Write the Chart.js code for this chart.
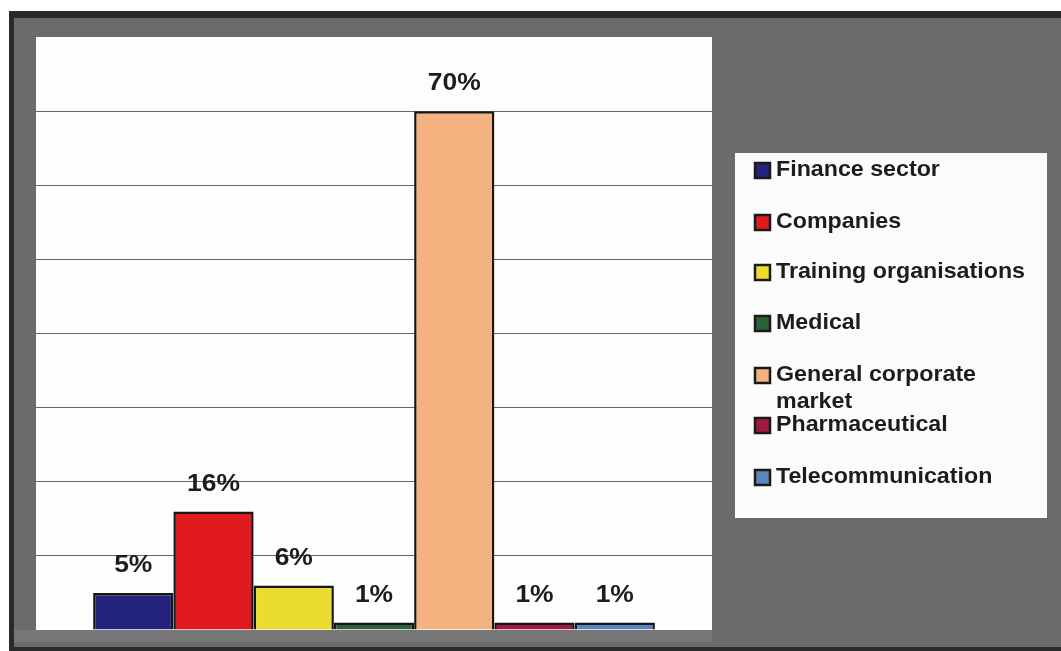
<!DOCTYPE html>
<html>
<head>
<meta charset="utf-8">
<script src="https://cdn.jsdelivr.net/npm/chart.js@4.4.1/dist/chart.umd.min.js"></script>
<style>
  html, body { margin: 0; padding: 0; background: #ffffff; }
  #wrap { width: 1061px; height: 651px; position: relative; }
</style>
</head>
<body>
<div id="wrap"><canvas id="c" width="1061" height="651"></canvas></div>
<script>
// Market segments and their share (%)
const segments = [
  'Finance sector',
  'Companies',
  'Training organisations',
  'Medical',
  'General corporate market',
  'Pharmaceutical',
  'Telecommunication'
];
const shares = [5, 16, 6, 1, 70, 1, 1];
const segmentColors = ['#23227c', '#e01a1d', '#ecdc30', '#2c6236', '#f3b280', '#a3183f', '#5a86be'];
const yTicks = [0, 10, 20, 30, 40, 50, 60, 70, 80];

const FONT = '"Liberation Sans", Arial, Helvetica, sans-serif';

// text drawn slightly wide, the way the printed type is set
function wideText(ctx, text, x, y, size, align, stretch) {
  ctx.save();
  ctx.font = 'bold ' + size + 'px ' + FONT;
  ctx.textBaseline = 'middle';
  ctx.textAlign = align;
  ctx.translate(x, y);
  ctx.scale(stretch, 1);
  ctx.fillText(text, 0, 0);
  ctx.restore();
}

// Grey frame and white plotting surface
const framePlugin = {
  id: 'frame',
  beforeDraw(chart) {
    const { ctx, chartArea: a, width, height } = chart;
    ctx.save();
    ctx.fillStyle = '#ffffff';
    ctx.fillRect(0, 0, width, height);
    ctx.fillStyle = '#2a2a2a';
    ctx.fillRect(9, 11, width - 9, height - 11);
    ctx.fillStyle = '#6b6b6b';
    ctx.fillRect(14, 18, width - 14, height - 22);
    ctx.fillStyle = '#777777';
    ctx.fillRect(14, a.bottom, a.right - 14, 12);
    ctx.fillStyle = '#fdfdfd';
    ctx.fillRect(a.left, a.top, a.right - a.left, a.bottom - a.top);
    ctx.restore();
  }
};

// Percentage labels above each bar
const valueLabels = {
  id: 'valueLabels',
  afterDatasetsDraw(chart) {
    const ctx = chart.ctx;
    ctx.save();
    ctx.fillStyle = '#1c1c1c';
    chart.data.datasets.forEach((ds, i) => {
      const bar = chart.getDatasetMeta(i).data[0];
      wideText(ctx, ds.data[0] + '%', bar.x, bar.y - 27, 23, 'center', 1.15);
    });
    ctx.restore();
  }
};

// Legend box on the right, with wrapped entries
const sideLegend = {
  id: 'sideLegend',
  afterDraw(chart) {
    const ctx = chart.ctx;
    const box = { x: 735, y: 153, w: 312, h: 365 };
    const size = 21.5;
    const stretch = 1.08;
    const textX = 776;
    const maxW = box.x + box.w - 8 - textX;
    const rowY = [170, 222, 272, 323, 375, 425, 477];
    ctx.save();
    ctx.fillStyle = '#fbfbfb';
    ctx.fillRect(box.x, box.y, box.w, box.h);
    ctx.font = 'bold ' + size + 'px ' + FONT;
    chart.data.datasets.forEach((ds, i) => {
      const y = rowY[i];
      ctx.fillStyle = ds.backgroundColor;
      ctx.fillRect(754, y - 8, 17, 17);
      ctx.strokeStyle = '#1a1a1a';
      ctx.lineWidth = 2.5;
      ctx.strokeRect(755, y - 7, 15, 15);
      // word-wrap the entry text
      const words = ds.label.split(' ');
      const lines = [];
      let cur = '';
      words.forEach(w => {
        const t = cur ? cur + ' ' + w : w;
        if (ctx.measureText(t).width * stretch > maxW && cur) { lines.push(cur); cur = w; }
        else cur = t;
      });
      lines.push(cur);
      ctx.fillStyle = '#1c1c1c';
      lines.forEach((ln, k) => wideText(ctx, ln, textX, y + k * 27, size, 'left', stretch));
    });
    ctx.restore();
  }
};

new Chart(document.getElementById('c'), {
  type: 'bar',
  data: {
    labels: [''],
    datasets: segments.map((name, i) => ({
      label: name,
      data: [shares[i]],
      backgroundColor: segmentColors[i],
      borderColor: '#161616',
      borderWidth: 2.5,
      categoryPercentage: 0.831,
      barPercentage: 1
    }))
  },
  options: {
    responsive: false,
    animation: false,
    layout: { padding: { left: 36, top: 37, right: 349, bottom: 21 } },
    plugins: { legend: { display: false }, tooltip: { enabled: false } },
    scales: {
      x: { display: false },
      y: {
        min: yTicks[0],
        max: yTicks[yTicks.length - 1],
        afterBuildTicks(scale) { scale.ticks = yTicks.map(v => ({ value: v })); },
        ticks: { display: false },
        border: { display: false },
        grid: {
          drawTicks: false,
          lineWidth: 1,
          color: c => (c.tick.value === 0 || c.tick.value === 80) ? 'rgba(0,0,0,0)' : '#666666'
        }
      }
    }
  },
  plugins: [framePlugin, valueLabels, sideLegend]
});
</script>
</body>
</html>
